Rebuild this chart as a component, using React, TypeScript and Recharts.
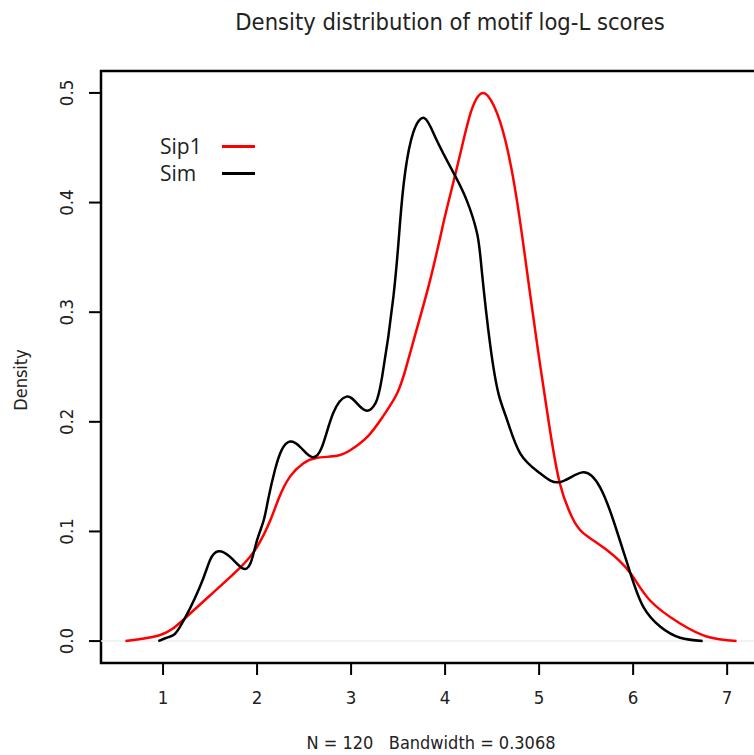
import { LineChart, Line, XAxis, YAxis, ReferenceArea, ReferenceLine } from 'recharts';

// density curves
const sip1X = [0.6, 0.97, 1.21, 1.53, 1.82, 2.0, 2.14, 2.23, 2.35, 2.49, 2.63, 2.85, 2.99, 3.17, 3.34, 3.49, 3.59, 3.7, 3.84, 3.96, 4.02, 4.16, 4.28, 4.4, 4.52, 4.64, 4.76, 4.87, 4.98, 5.1, 5.22, 5.35, 5.47, 5.72, 5.97, 6.18, 6.5, 6.79, 7.1];
const sip1Y = [0, 0.0055, 0.019, 0.044, 0.067, 0.086, 0.11, 0.13, 0.15, 0.162, 0.167, 0.169, 0.174, 0.186, 0.205, 0.226, 0.251, 0.285, 0.329, 0.373, 0.395, 0.444, 0.484, 0.5, 0.488, 0.457, 0.404, 0.338, 0.27, 0.201, 0.144, 0.113, 0.0985, 0.083, 0.062, 0.037, 0.016, 0.004, 0];

const simX = [0.95, 1.07, 1.18, 1.39, 1.5, 1.59, 1.71, 1.84, 1.93, 2.0, 2.07, 2.12, 2.19, 2.26, 2.35, 2.46, 2.58, 2.69, 2.81, 2.95, 3.06, 3.17, 3.26, 3.33, 3.45, 3.52, 3.574, 3.66, 3.78, 3.91, 4.09, 4.23, 4.34, 4.39, 4.48, 4.57, 4.66, 4.8, 5.01, 5.22, 5.47, 5.65, 5.79, 5.97, 6.11, 6.29, 6.5, 6.74];
const simY = [0, 0.004, 0.013, 0.049, 0.074, 0.082, 0.077, 0.0666, 0.071, 0.092, 0.11, 0.13, 0.156, 0.174, 0.182, 0.177, 0.168, 0.177, 0.208, 0.223, 0.217, 0.21, 0.217, 0.241, 0.314, 0.381, 0.427, 0.4635, 0.477, 0.457, 0.427, 0.402, 0.372, 0.338, 0.27, 0.225, 0.2016, 0.171, 0.153, 0.145, 0.154, 0.14, 0.11, 0.062, 0.031, 0.013, 0.003, 0];

const xTicks = [1, 2, 3, 4, 5, 6, 7];
const yTicks = [0, 0.1, 0.2, 0.3, 0.4, 0.5];

const sip1 = sip1X.map((x, i) => ({ x, y: sip1Y[i] }));
const sim = simX.map((x, i) => ({ x, y: simY[i] }));

const tickFont = '"Liberation Sans Narrow", "DejaVu Sans Condensed", Roboto, sans-serif';
const ink = '#222';

const YTick = (props: any) => {
  const { y, payload } = props;
  return (
    <text x={67} y={y} transform={`rotate(-90, 67, ${y})`} textAnchor="middle" dominantBaseline="central"
      fill={ink} fontSize={18.5} fontFamily={tickFont}>
      {payload.value.toFixed(1)}
    </text>
  );
};

export default function App() {
  return (
    <div style={{ position: 'absolute', left: 0, top: 0, width: 754, height: 755, overflow: 'hidden', background: '#fff' }}>
      <div style={{ position: 'absolute', left: 450, top: 22, transform: 'translate(-50%, -50%)', fontFamily: tickFont, fontSize: 23.5, color: ink, whiteSpace: 'nowrap' }}>
        Density distribution of motif log-L scores
      </div>
      <div style={{ position: 'absolute', left: 20, top: 380, transform: 'translate(-50%, -50%) rotate(-90deg)', fontFamily: tickFont, fontSize: 18, color: ink, whiteSpace: 'nowrap' }}>
        Density
      </div>
      <div style={{ position: 'absolute', left: 431, top: 742, transform: 'translate(-50%, -50%)', fontFamily: tickFont, fontSize: 18, color: ink, whiteSpace: 'pre' }}>
        {'N = 120   Bandwidth = 0.3068'}
      </div>
      <LineChart width={770} height={755} margin={{ top: 71, right: 9, bottom: 62, left: 41 }}>
        <XAxis type="number" dataKey="x" domain={[0.34, 7.36]} ticks={xTicks} allowDataOverflow
          axisLine={false} tickSize={12} tickMargin={16} height={30}
          tickLine={{ stroke: '#000', strokeWidth: 2 }}
          tick={{ fill: ink, fontSize: 18.5, fontFamily: tickFont }} />
        <YAxis type="number" dataKey="y" domain={[-0.02, 0.52]} ticks={yTicks} allowDataOverflow
          axisLine={false} tickSize={12} width={60}
          tickLine={{ stroke: '#000', strokeWidth: 2 }}
          tick={<YTick />} />
        <ReferenceLine y={0} stroke="#eeeeee" strokeWidth={1.5} />
        <Line data={sip1} dataKey="y" type="natural" stroke="#ff0000" strokeWidth={2.5} dot={false} isAnimationActive={false} />
        <Line data={sim} dataKey="y" type="natural" stroke="#000" strokeWidth={2.5} dot={false} isAnimationActive={false} />
        <ReferenceArea x1={0.34} x2={7.36} y1={-0.02} y2={0.52} fill="none" stroke="#000" strokeWidth={2.5} ifOverflow="visible" />
      </LineChart>
      <div style={{ position: 'absolute', left: 160, top: 133, fontFamily: '"Open Sans", sans-serif', fontSize: 21, color: ink }}>
        {[['Sip1', '#ff0000'], ['Sim', '#000']].map(([name, col]) => (
          <div key={name} style={{ display: 'flex', alignItems: 'center', height: 27 }}>
            <span style={{ width: 62, lineHeight: '27px' }}>{name}</span>
            <span style={{ width: 33, height: 2.5, background: col }} />
          </div>
        ))}
      </div>
    </div>
  );
}
